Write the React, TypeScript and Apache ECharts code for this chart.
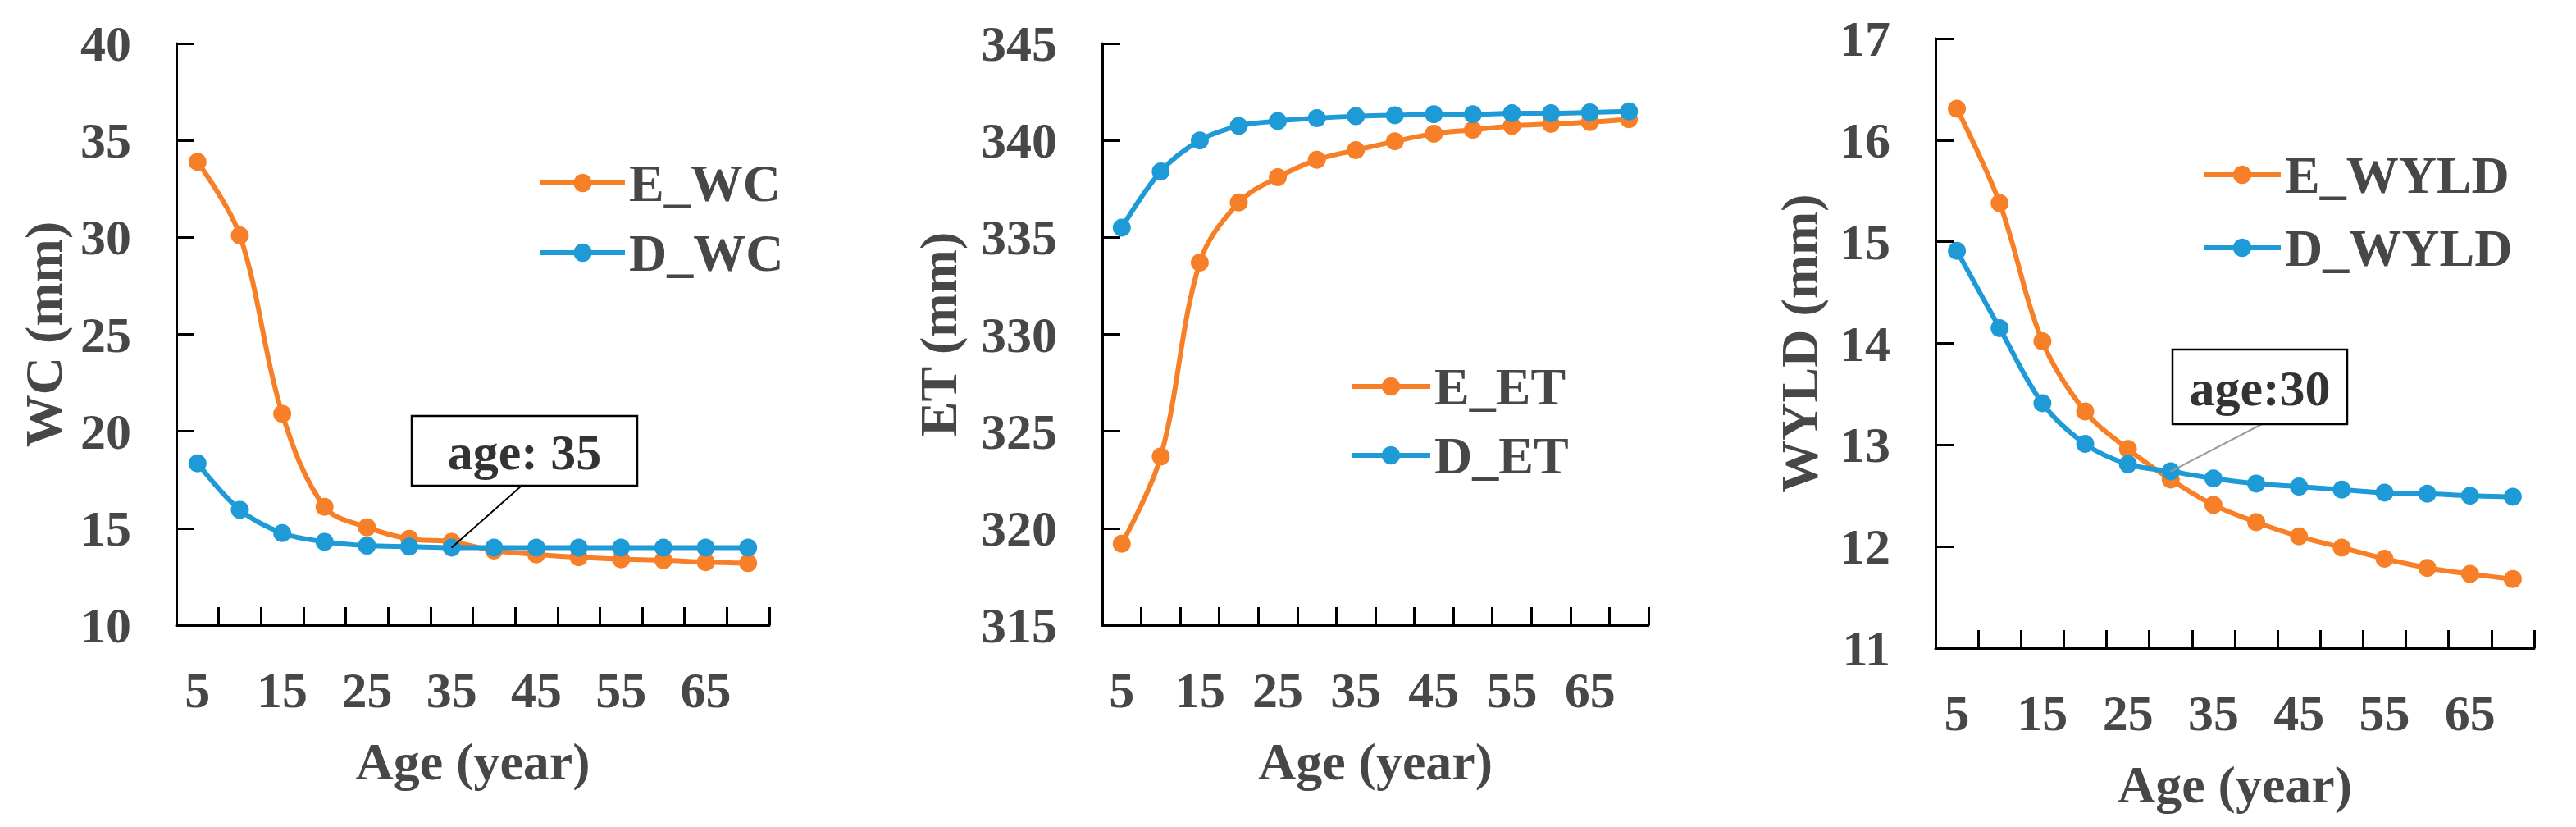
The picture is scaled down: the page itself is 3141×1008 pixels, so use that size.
import React, { useEffect, useRef } from 'react';
import * as echarts from 'echarts';

const ages = ['5', '10', '15', '20', '25', '30', '35', '40', '45', '50', '55', '60', '65', '70'];

const eWC = [33.9, 30.1, 20.9, 16.1, 15.05, 14.45, 14.3, 13.85, 13.65, 13.5, 13.4, 13.35, 13.25, 13.2];
const dWC = [18.35, 15.95, 14.75, 14.3, 14.1, 14.05, 14.0, 14.0, 14.0, 14.0, 14.0, 14.0, 14.0, 14.0];

const eET = [319.2, 323.7, 333.7, 336.8, 338.1, 339.0, 339.5, 339.95, 340.35, 340.55, 340.75, 340.85, 340.95, 341.1];
const dET = [335.5, 338.4, 340.0, 340.75, 341.0, 341.15, 341.25, 341.3, 341.35, 341.35, 341.4, 341.4, 341.45, 341.5];

const eWYLD = [16.31, 15.38, 14.02, 13.33, 12.96, 12.66, 12.41, 12.24, 12.1, 11.99, 11.88, 11.79, 11.73, 11.68];
const dWYLD = [14.91, 14.15, 13.41, 13.01, 12.81, 12.74, 12.67, 12.62, 12.59, 12.56, 12.53, 12.52, 12.5, 12.49];

const yTitles = ['WC (mm)', 'ET (mm)', 'WYLD (mm)'];
const xTitle = 'Age (year)';
const seriesNames = [
  ['E_WC', 'D_WC'],
  ['E_ET', 'D_ET'],
  ['E_WYLD', 'D_WYLD'],
];

const ORANGE = '#F77F27';
const BLUE = '#1E9BD7';
const TEXT = '#474747';
const FONT = '"Liberation Serif", "Times New Roman", serif';

export default function App() {
  const ref = useRef<HTMLDivElement>(null);

  useEffect(() => {
    if (!ref.current) return;
    const chart = echarts.init(ref.current, undefined, { renderer: 'svg' });

    const grids = [
      { left: 215, top: 53, width: 723, height: 709 },
      { left: 1344, top: 53, width: 666, height: 709 },
      { left: 2360, top: 47, width: 730, height: 743 },
    ];
    const yRanges = [
      { min: 10, max: 40, interval: 5, nameGap: 130 },
      { min: 315, max: 345, interval: 5, nameGap: 168 },
      { min: 11, max: 17, interval: 1, nameGap: 134 },
    ];
    const data = [
      [eWC, dWC],
      [eET, dET],
      [eWYLD, dWYLD],
    ];

    const axisLine = { show: true, lineStyle: { color: '#000', width: 3 } };
    const axisTick = { show: true, inside: true, length: 22, lineStyle: { color: '#000', width: 3 } };
    const labelStyle = { color: TEXT, fontFamily: FONT, fontWeight: 'bold' as const, fontSize: 62 };
    const nameStyle = { color: TEXT, fontFamily: FONT, fontWeight: 'bold' as const, fontSize: 64 };

    const xAxis = grids.map((_, i) => ({
      type: 'category',
      gridIndex: i,
      data: ages,
      boundaryGap: true,
      axisLine,
      axisTick: { ...axisTick, interval: 0 },
      axisLabel: { ...labelStyle, interval: 1, margin: 48 },
      splitLine: { show: false },
      name: xTitle,
      nameLocation: 'middle',
      nameGap: 134,
      nameTextStyle: nameStyle,
    }));

    const yAxis = grids.map((_, i) => ({
      type: 'value',
      gridIndex: i,
      min: yRanges[i].min,
      max: yRanges[i].max,
      interval: yRanges[i].interval,
      axisLine,
      axisTick,
      axisLabel: { ...labelStyle, margin: 55 },
      splitLine: { show: false },
      name: yTitles[i],
      nameLocation: 'middle',
      nameGap: yRanges[i].nameGap,
      nameTextStyle: nameStyle,
    }));

    const series: any[] = [];
    data.forEach((pair, i) => {
      pair.forEach((vals, j) => {
        const color = j === 0 ? ORANGE : BLUE;
        series.push({
          type: 'line',
          name: seriesNames[i][j],
          xAxisIndex: i,
          yAxisIndex: i,
          data: vals,
          smooth: 0.35,
          symbol: 'circle',
          symbolSize: 22,
          showSymbol: true,
          lineStyle: { color, width: 6 },
          itemStyle: { color },
          z: 2 + j,
        });
      });
    });

    const legendPos = [
      { left: 656, top: 191, itemWidth: 103, itemGap: 21 },
      { left: 1645, top: 439, itemWidth: 96, itemGap: 20 },
      { left: 2684, top: 181, itemWidth: 94, itemGap: 25 },
    ];
    const legend = legendPos.map((p, i) => ({
      data: seriesNames[i],
      orient: 'vertical',
      left: p.left,
      top: p.top,
      itemWidth: p.itemWidth,
      itemHeight: 28,
      itemGap: p.itemGap,
      padding: 0,
      lineStyle: { width: 6 },
      textStyle: { ...nameStyle, lineHeight: 64 },
      selectedMode: false,
    }));

    chart.setOption({
      animation: false,
      backgroundColor: '#fff',
      grid: grids,
      xAxis,
      yAxis,
      series,
      legend,
    });

    const p1 = chart.convertToPixel({ seriesIndex: 1 }, [6, dWC[6]]) as number[];
    const p3 = chart.convertToPixel({ seriesIndex: 5 }, [5, dWYLD[5]]) as number[];

    const boxText = (t: string, x: number, y: number) => ({
      type: 'text',
      x,
      y,
      z: 101,
      style: {
        text: t,
        fontSize: 62,
        fontWeight: 'bold',
        fontFamily: FONT,
        fill: '#333',
        align: 'center',
        verticalAlign: 'middle',
      },
    });

    chart.setOption({
      graphic: [
        {
          type: 'line',
          z: 99,
          shape: { x1: 636, y1: 592, x2: p1[0], y2: p1[1] },
          style: { stroke: '#000', lineWidth: 2 },
        },
        {
          type: 'rect',
          z: 100,
          shape: { x: 502, y: 507, width: 275, height: 85 },
          style: { fill: '#fff', stroke: '#000', lineWidth: 2.5 },
        },
        boxText('age: 35', 639.5, 551),
        {
          type: 'line',
          z: 99,
          shape: { x1: 2758, y1: 517, x2: p3[0], y2: p3[1] },
          style: { stroke: '#9a9a9a', lineWidth: 2 },
        },
        {
          type: 'rect',
          z: 100,
          shape: { x: 2649, y: 426, width: 213, height: 91 },
          style: { fill: '#fff', stroke: '#000', lineWidth: 2.5 },
        },
        boxText('age:30', 2755.5, 473),
      ],
    });

    return () => {
      chart.dispose();
    };
  }, []);

  return (
    <div
      ref={ref}
      style={{ position: 'fixed', left: 0, top: 0, width: 3141, height: 1008, background: '#fff' }}
    />
  );
}
